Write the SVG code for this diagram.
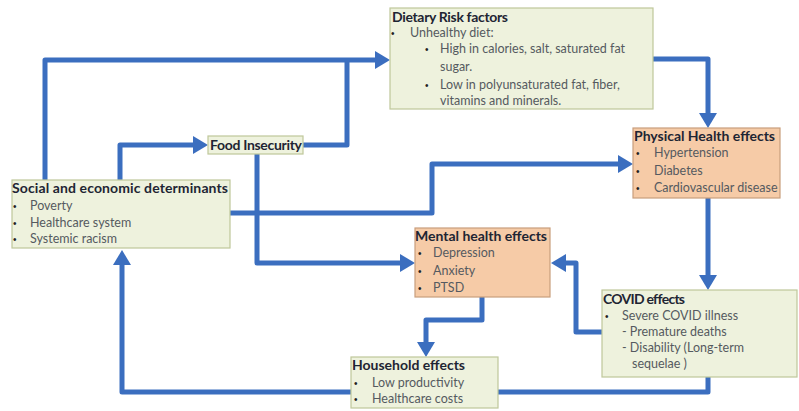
<svg xmlns="http://www.w3.org/2000/svg" width="799" height="411" viewBox="0 0 799 411">
<defs>
<style>
.g{fill:#EEF2DD;stroke:#BFC79A;stroke-width:1.2}
.o{fill:#F6CBA7;stroke:#C99E7C;stroke-width:1.2}
.t{font-family:Lato,"Liberation Sans",sans-serif;font-weight:bold;font-size:14px;fill:#1E2533}
.b{font-family:Lato,"Liberation Sans",sans-serif;font-size:12.5px;fill:#555A60}
.d{font-family:"Liberation Sans",sans-serif;font-size:10px;fill:#222}
.c{fill:none;stroke:#3B6EBF;stroke-width:5;stroke-linejoin:round}
</style>
<marker id="ah" markerUnits="userSpaceOnUse" markerWidth="16" markerHeight="18" refX="0" refY="9" orient="auto" viewBox="0 0 16 18">
<path d="M0,0 L15,9 L0,18 z" fill="#3B6EBF"/>
</marker>
</defs>
<rect width="799" height="411" fill="#FFFFFF"/>
<g id="connectors">
<path class="c" d="M45,180 V60 H375" marker-end="url(#ah)"/>
<path class="c" d="M120,180 V145 H193" marker-end="url(#ah)"/>
<path class="c" d="M303,145 H347 V60"/>
<path class="c" d="M653,59 H708 V113" marker-end="url(#ah)"/>
<path class="c" d="M230,213 H432 V164 H618" marker-end="url(#ah)"/>
<path class="c" d="M257,154 V263 H400" marker-end="url(#ah)"/>
<path class="c" d="M708,198 V275" marker-end="url(#ah)"/>
<path class="c" d="M602,332 H576 V263 H566" marker-end="url(#ah)"/>
<path class="c" d="M482,297 V320 H426 V342" marker-end="url(#ah)"/>
<path class="c" d="M708,377 V392 H498"/>
<path class="c" d="M352,392 H122 V265" marker-end="url(#ah)"/>
</g>
<g id="dietary">
<rect class="g" x="390" y="8" width="263" height="101"/>
<text class="t" x="392" y="22" textLength="116">Dietary Risk factors</text>
<text class="d" x="391" y="37">•</text>
<text class="b" x="410" y="37">Unhealthy diet:</text>
<text class="d" x="425" y="53">•</text>
<text class="b" x="440" y="53">High in calories, salt, saturated fat</text>
<text class="b" x="440" y="71">sugar.</text>
<text class="d" x="425" y="89">•</text>
<text class="b" x="440" y="89">Low in polyunsaturated fat, fiber,</text>
<text class="b" x="440" y="105">vitamins and minerals.</text>
</g>
<g id="food">
<rect class="g" x="208" y="136" width="95" height="18"/>
<text class="t" x="210" y="150" textLength="92">Food Insecurity</text>
</g>
<g id="social">
<rect class="g" x="12" y="180" width="218" height="68"/>
<text class="t" x="12" y="193" textLength="216">Social and economic determinants</text>
<text class="d" x="13" y="210">•</text>
<text class="b" x="30" y="210">Poverty</text>
<text class="d" x="13" y="227">•</text>
<text class="b" x="30" y="227">Healthcare system</text>
<text class="d" x="13" y="243">•</text>
<text class="b" x="30" y="243">Systemic racism</text>
</g>
<g id="physical">
<rect class="o" x="633" y="128" width="147" height="70"/>
<text class="t" x="634" y="141" textLength="141">Physical Health effects</text>
<text class="d" x="636" y="157">•</text>
<text class="b" x="654" y="157">Hypertension</text>
<text class="d" x="636" y="175">•</text>
<text class="b" x="654" y="175">Diabetes</text>
<text class="d" x="636" y="192">•</text>
<text class="b" x="654" y="192">Cardiovascular disease</text>
</g>
<g id="mental">
<rect class="o" x="415" y="228" width="135" height="69"/>
<text class="t" x="415" y="241" textLength="132">Mental health effects</text>
<text class="d" x="418" y="257">•</text>
<text class="b" x="433" y="257">Depression</text>
<text class="d" x="418" y="275">•</text>
<text class="b" x="433" y="275">Anxiety</text>
<text class="d" x="418" y="292">•</text>
<text class="b" x="433" y="292">PTSD</text>
</g>
<g id="covid">
<rect class="g" x="602" y="290" width="195" height="87"/>
<text class="t" x="603" y="304" textLength="82">COVID effects</text>
<text class="d" x="605" y="320">•</text>
<text class="b" x="622" y="320">Severe COVID illness</text>
<text class="b" x="622" y="336">- Premature deaths</text>
<text class="b" x="622" y="352">- Disability (Long-term</text>
<text class="b" x="632" y="368">sequelae )</text>
</g>
<g id="household">
<rect class="g" x="351" y="357" width="147" height="51"/>
<text class="t" x="352" y="370" textLength="113">Household effects</text>
<text class="d" x="354" y="387">•</text>
<text class="b" x="372" y="387">Low productivity</text>
<text class="d" x="354" y="403">•</text>
<text class="b" x="372" y="403">Healthcare costs</text>
</g>
</svg>
